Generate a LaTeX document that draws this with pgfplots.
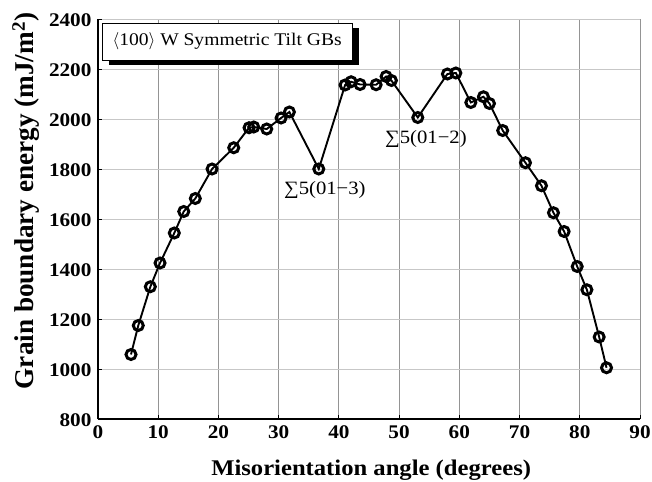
\documentclass[border=0pt]{standalone}
\usepackage{fontspec}
\setmainfont{Liberation Serif}[FakeStretch=1.1]
\newfontfamily\uprightlabel{Liberation Serif}
\usepackage{pgfplots}
\pgfplotsset{compat=1.18}
\usetikzlibrary{shadows}

\begin{document}
\begin{tikzpicture}
\begin{axis}[
  scale only axis,
  width=542pt, height=400pt,
  xmin=0, xmax=90, ymin=800, ymax=2400,
  xtick={0,10,...,90},
  ytick={800,1000,...,2400},
  axis x line*=bottom, axis y line*=left,
  axis line style={-, black, line width=1.1pt},
  grid=major,
  x grid style={color=black!42, line width=0.8pt},
  y grid style={color=black!22, line width=0.8pt},
  tick align=inside,
  major tick length=4pt,
  tick style={black, line width=0.8pt},
  /pgf/number format/assume math mode=true,
  /pgf/number format/1000 sep={},
  ticklabel style={font=\bfseries\fontsize{19.3}{19.3}\selectfont},
  xticklabel style={yshift=-3.5pt},
  yticklabel style={xshift=-3pt, yshift=-1.5pt},
  xlabel={\bfseries Misorientation angle (degrees)},
  xlabel style={font=\fontsize{22.4}{22.4}\selectfont,
    at={(axis description cs:0.504,0)}, anchor=base, yshift=-56pt},
  ylabel={\uprightlabel\bfseries Grain boundary energy (mJ/m\textsuperscript{2})},
  ylabel style={font=\fontsize{27.2}{27.2}\selectfont,
    at={(axis description cs:-0.1328,0.545)}, anchor=center},
]
\addplot[black, line width=1.9pt, mark=o, mark size=5.0pt,
  mark options={fill=white, line width=3pt}] coordinates {
  (5.48,1058) (6.69,1174) (8.69,1329) (10.30,1424) (12.67,1544)
  (14.24,1630) (16.16,1682) (18.94,1800) (22.54,1885) (25.08,1965)
  (25.86,1968) (28.02,1960) (30.40,2004) (31.78,2028) (36.66,1800)
  (41.03,2136) (42.03,2149) (43.52,2138) (46.18,2137) (47.84,2170)
  (48.72,2154) (53.10,2006) (58.02,2180) (59.42,2184) (61.91,2066)
  (64.00,2089) (65.00,2062) (67.20,1954) (70.98,1825) (73.64,1733)
  (75.63,1625) (77.40,1550) (79.57,1410) (81.18,1317) (83.22,1128)
  (84.44,1005)
};
\node[font=\fontsize{18.8}{18.8}\selectfont] at (axis cs:37.66,1717) {∑5(01−3)};
\node[font=\fontsize{18.8}{18.8}\selectfont] at (axis cs:54.45,1922) {∑5(01−2)};
\node[draw=black, fill=white, line width=0.7pt, anchor=north west,
  inner xsep=9pt, minimum height=37pt, minimum width=250pt,
  font=\fontsize{17.8}{18}\selectfont,
  drop shadow={shadow xshift=7pt, shadow yshift=-5pt, fill=black, opacity=1}]
  at (rel axis cs:0.007,0.991) {$\langle$100$\rangle$ W Symmetric Tilt GBs};
\end{axis}
\pgfresetboundingbox
\path[use as bounding box] (-98pt,-62pt) rectangle (554pt,419pt);
\end{tikzpicture}
\end{document}
